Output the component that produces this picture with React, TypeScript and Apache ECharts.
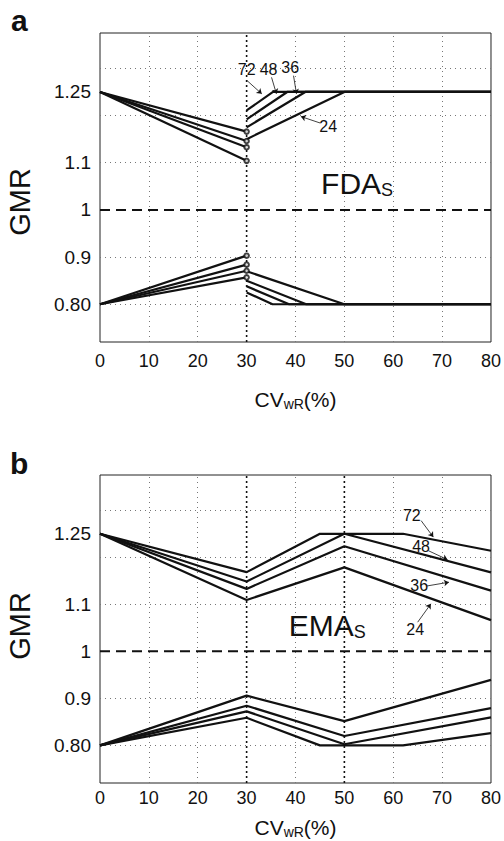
import React, { useEffect, useRef } from "react";
import * as echarts from "echarts";

const FONT = '"Liberation Sans", Arial, Helvetica, sans-serif';
const INK = "#111";

// ---- axes ----
const CV_MIN = 0;
const CV_MAX = 80;
const CV_STEP = 10;
const GMR_MIN = 0.72;
const GMR_MAX = 1.375;
const GMR_TICKS = [0.8, 0.9, 1, 1.1, 1.25];
const GMR_GRID = [0.8, 0.9, 1.0, 1.1, 1.2, 1.3];
const CV_GRID = [10, 20, 30, 40, 50, 60, 70];
const UPPER = 1.25;
const LOWER = 0.8;
const UNITY = 1;
const N_LABELS = ["72", "48", "36", "24"];

// ---- panel a (FDA) ----  order: 72, 48, 36, 24
const A_SWITCH_CV = 30;
const A_UP_LEFT_END = [1.166, 1.146, 1.133, 1.104];
const A_UP_RIGHT_START = [1.211, 1.192, 1.175, 1.15];
const A_UP_REACH_CV = [35.4, 38.3, 42.0, 50.0];
const A_LO_LEFT_END = [0.857, 0.871, 0.884, 0.903];
const A_LO_RIGHT_START = [0.825, 0.838, 0.85, 0.87];
const A_LO_REACH_CV = [35.3, 38.7, 42.2, 50.0];
const A_VLINES = [30];

// ---- panel b (EMA) ----
const B_CV_72 = [0, 30, 45, 62, 80];
const B_UP_72 = [1.25, 1.1685, 1.25, 1.25, 1.214];
const B_LO_72 = [0.8, 0.8587, 0.8, 0.8, 0.826];
const B_CV = [0, 30, 50, 80];
const B_UP_48 = [1.25, 1.1486, 1.25, 1.168];
const B_UP_36 = [1.25, 1.1328, 1.2235, 1.129];
const B_UP_24 = [1.25, 1.1092, 1.1786, 1.0664];
const B_LO_48 = [0.8, 0.8724, 0.8024, 0.8595];
const B_LO_36 = [0.8, 0.8844, 0.82, 0.8794];
const B_LO_24 = [0.8, 0.9058, 0.8516, 0.9394];
const B_VLINES = [30, 50];

// ---- annotations (data coordinates) ----
const A_NOTE_POS = [[30.0, 1.297], [34.5, 1.297], [38.9, 1.302], [46.7, 1.177]];
const A_ARROW_FROM = [[30.1, 1.274], [35.1, 1.281], [39.6, 1.2845], [45.1, 1.184]];
const A_ARROW_TO = [[33.1, 1.246], [36.1, 1.246], [40.2, 1.246], [41.1, 1.198]];
const B_NOTE_POS = [[63.8, 1.289], [65.7, 1.222], [65.3, 1.1395], [64.5, 1.047]];
const B_ARROW_FROM = [[65.7, 1.278], [67.2, 1.214], [66.9, 1.139], [65.0, 1.062]];
const B_ARROW_TO = [[68.2, 1.243], [71.1, 1.195], [71.4, 1.147], [67.7, 1.101]];
const A_TITLE = ["FDA", "S"];
const A_TITLE_POS = [52.6, 1.057];
const B_TITLE = ["EMA", "S"];
const B_TITLE_POS = [46.5, 1.056];

const zip = (xs: number[], ys: number[]) => xs.map((x, i) => [x, ys[i]]);

function dataLine(g: number, data: number[][]) {
  return {
    type: "line",
    xAxisIndex: g,
    yAxisIndex: g,
    data,
    symbol: "none",
    silent: true,
    z: 4,
    lineStyle: { color: INK, width: 2.2 },
  };
}

function frameSeries(g: number, vlines: number[]) {
  const list: any[] = [];
  list.push({
    type: "line",
    xAxisIndex: g,
    yAxisIndex: g,
    data: [[CV_MIN, UNITY], [CV_MAX, UNITY]],
    symbol: "none",
    silent: true,
    z: 3,
    lineStyle: { color: INK, width: 2, type: [10, 6] },
    markLine: {
      silent: true,
      z: 1,
      symbol: "none",
      label: { show: false },
      lineStyle: { color: "#777", width: 1, type: [1, 4] },
      data: [
        ...CV_GRID.filter((v) => !vlines.includes(v)).map((v) => ({ xAxis: v })),
        ...GMR_GRID.filter((v) => v !== UNITY).map((v) => ({ yAxis: v })),
      ],
    },
  });
  vlines.forEach((v) =>
    list.push({
      type: "line",
      xAxisIndex: g,
      yAxisIndex: g,
      data: [[v, GMR_MIN], [v, GMR_MAX]],
      symbol: "none",
      silent: true,
      z: 3,
      lineStyle: { color: INK, width: 1.6, type: [2, 3] },
    })
  );
  return list;
}

function annotations(
  g: number,
  pos: number[][],
  from: number[][],
  to: number[][],
  title: string[],
  titlePos: number[]
) {
  return {
    type: "scatter",
    xAxisIndex: g,
    yAxisIndex: g,
    data: [],
    silent: true,
    markLine: {
      silent: true,
      z: 6,
      symbol: ["none", "arrow"],
      symbolSize: 5,
      label: { show: false },
      lineStyle: { color: INK, width: 0.8, type: "solid" },
      data: from.map((p, i) => [{ coord: p }, { coord: to[i] }]),
    },
    markPoint: {
      silent: true,
      symbol: "circle",
      symbolSize: 0,
      itemStyle: { color: "rgba(0,0,0,0)" },
      label: {
        show: true,
        position: "inside",
        color: INK,
        fontSize: 16,
        fontFamily: FONT,
      },
      data: [
        ...pos.map((p, i) => ({
          coord: p,
          value: N_LABELS[i],
          label: { formatter: N_LABELS[i] },
        })),
        {
          coord: titlePos,
          value: 0,
          label: {
            formatter: `{m|${title[0]}}{s|${title[1]}}`,
            rich: {
              m: { fontSize: 30, lineHeight: 32, fontFamily: FONT, color: INK },
              s: {
                fontSize: 18,
                lineHeight: 16,
                verticalAlign: "bottom",
                fontFamily: FONT,
                color: INK,
              },
            },
          },
        },
      ],
    },
  };
}

function xAxis(g: number, labelMargin: number, nameGap: number) {
  return {
    gridIndex: g,
    type: "value",
    min: CV_MIN,
    max: CV_MAX,
    interval: CV_STEP,
    axisLine: { show: false },
    axisTick: { show: false },
    splitLine: { show: false },
    axisLabel: { fontSize: 18, color: INK, fontFamily: FONT, margin: labelMargin },
    name: "{n|CV}{s|wR}{n|(%)}",
    nameLocation: "middle",
    nameGap,
    nameTextStyle: {
      color: INK,
      fontFamily: FONT,
      rich: {
        n: { fontSize: 21, lineHeight: 24, fontFamily: FONT, color: INK },
        s: { fontSize: 14, lineHeight: 8, verticalAlign: "bottom", fontFamily: FONT, color: INK },
      },
    },
  };
}

function yAxis(g: number) {
  return {
    gridIndex: g,
    type: "value",
    min: GMR_MIN,
    max: GMR_MAX,
    axisLine: { show: false },
    axisTick: { show: false },
    splitLine: { show: false },
    axisLabel: {
      customValues: GMR_TICKS,
      fontSize: 19,
      color: INK,
      fontFamily: FONT,
      margin: 9,
      formatter: (v: number) =>
        Math.abs(v - 0.8) < 1e-9 ? "0.80" : Math.abs(v - 1.25) < 1e-9 ? "1.25" : String(+v.toFixed(2)),
    },
  };
}

export default function App() {
  const ref = useRef<HTMLDivElement>(null);
  useEffect(() => {
    if (!ref.current) return;
    const chart = echarts.init(ref.current, undefined, { renderer: "svg" });

    const series: any[] = [];
    // panel a
    series.push(...frameSeries(0, A_VLINES));
    for (let i = 0; i < 4; i++) {
      series.push(dataLine(0, [[CV_MIN, UPPER], [A_SWITCH_CV, A_UP_LEFT_END[i]]]));
      series.push(
        dataLine(0, [[A_SWITCH_CV, A_UP_RIGHT_START[i]], [A_UP_REACH_CV[i], UPPER], [CV_MAX, UPPER]])
      );
      series.push(dataLine(0, [[CV_MIN, LOWER], [A_SWITCH_CV, A_LO_LEFT_END[i]]]));
      series.push(
        dataLine(0, [[A_SWITCH_CV, A_LO_RIGHT_START[i]], [A_LO_REACH_CV[i], LOWER], [CV_MAX, LOWER]])
      );
    }
    series.push({
      type: "scatter",
      xAxisIndex: 0,
      yAxisIndex: 0,
      silent: true,
      z: 5,
      symbol: "emptyCircle",
      symbolSize: 4.5,
      itemStyle: { color: INK, borderColor: INK, borderWidth: 1 },
      data: [...A_UP_LEFT_END, ...A_LO_LEFT_END].map((v) => [A_SWITCH_CV, v]),
    });
    series.push(annotations(0, A_NOTE_POS, A_ARROW_FROM, A_ARROW_TO, A_TITLE, A_TITLE_POS));

    // panel b
    series.push(...frameSeries(1, B_VLINES));
    series.push(dataLine(1, zip(B_CV_72, B_UP_72)));
    series.push(dataLine(1, zip(B_CV_72, B_LO_72)));
    [B_UP_48, B_UP_36, B_UP_24, B_LO_48, B_LO_36, B_LO_24].forEach((ys) =>
      series.push(dataLine(1, zip(B_CV, ys)))
    );
    series.push(annotations(1, B_NOTE_POS, B_ARROW_FROM, B_ARROW_TO, B_TITLE, B_TITLE_POS));

    chart.setOption({
      animation: false,
      backgroundColor: "#fff",
      textStyle: { fontFamily: FONT },
      grid: [
        { left: 100, top: 33, width: 393, height: 309, show: true, borderColor: "#222", borderWidth: 1, backgroundColor: "transparent" },
        { left: 100, top: 475, width: 393, height: 308, show: true, borderColor: "#222", borderWidth: 1, backgroundColor: "transparent" },
      ],
      xAxis: [xAxis(0, 10, 45), xAxis(1, 6, 32)],
      yAxis: [yAxis(0), yAxis(1)],
      graphic: [
        { type: "text", x: 11, y: 20, style: { text: "a", font: `bold 30px ${FONT}`, fill: INK, align: "left", verticalAlign: "middle" } },
        { type: "text", x: 10, y: 463, style: { text: "b", font: `bold 30px ${FONT}`, fill: INK, align: "left", verticalAlign: "middle" } },
        { type: "text", x: 20, y: 202, rotation: Math.PI / 2, style: { text: "GMR", font: `29px ${FONT}`, fill: INK, align: "center", verticalAlign: "middle" } },
        { type: "text", x: 20, y: 626, rotation: Math.PI / 2, style: { text: "GMR", font: `29px ${FONT}`, fill: INK, align: "center", verticalAlign: "middle" } },
      ],
      series,
    });
    return () => chart.dispose();
  }, []);
  return <div ref={ref} style={{ position: "absolute", left: 0, top: 0, width: 504, height: 841 }} />;
}
